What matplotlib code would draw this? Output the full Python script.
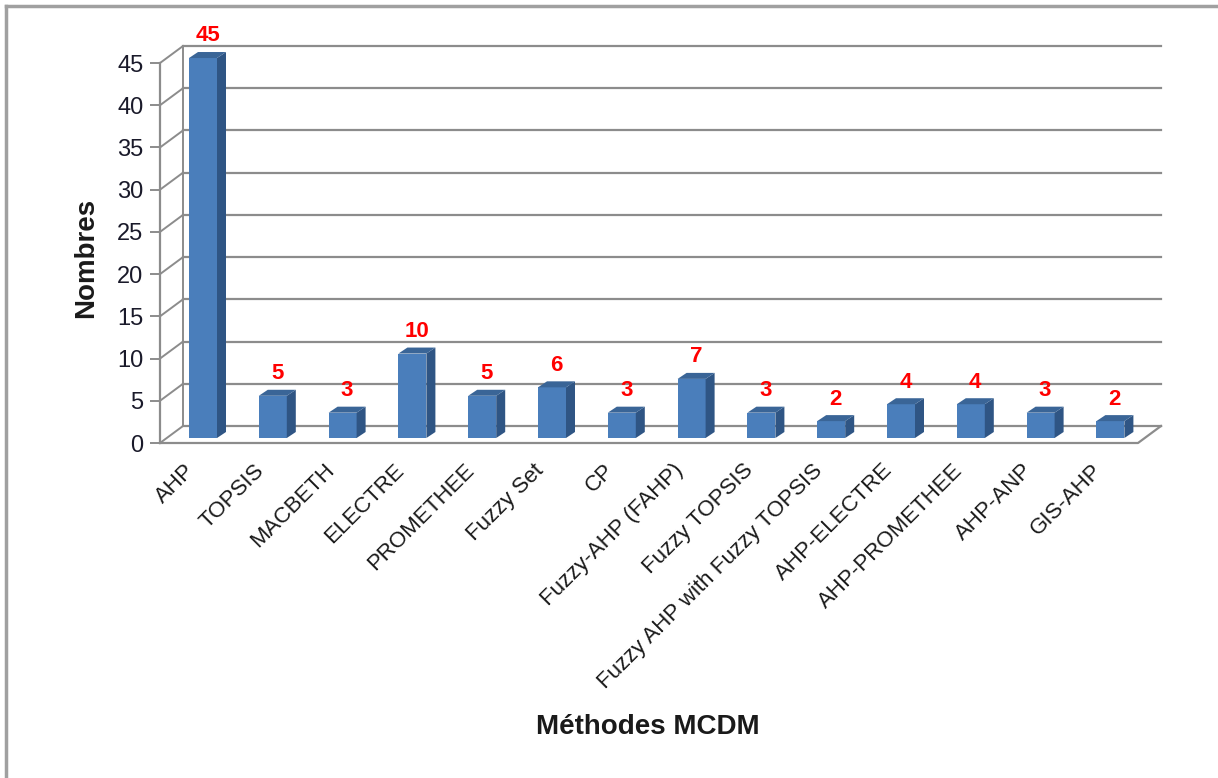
import matplotlib.pyplot as plt
from matplotlib.patches import Polygon
from matplotlib.lines import Line2D
import matplotlib.transforms as mtransforms

plt.rcParams['font.family'] = ['Liberation Sans', 'DejaVu Sans']

methods = ['AHP', 'TOPSIS', 'MACBETH', 'ELECTRE', 'PROMETHEE', 'Fuzzy Set', 'CP',
           'Fuzzy-AHP (FAHP)', 'Fuzzy TOPSIS', 'Fuzzy AHP with Fuzzy TOPSIS',
           'AHP-ELECTRE', 'AHP-PROMETHEE', 'AHP-ANP', 'GIS-AHP']
counts = [45, 5, 3, 10, 5, 6, 3, 7, 3, 2, 4, 4, 3, 2]
yticks = [0, 5, 10, 15, 20, 25, 30, 35, 40, 45]

W, H = 1218, 778
fig = plt.figure(figsize=(W / 100, H / 100), dpi=100)

# pixel geometry of the front plane (x: category index, y: value)
px_cat = 69.8          # pixels per category
px_val = 8.444         # pixels per unit
x0_px, xr_px = 160, 1170
y0_px = 443            # pixel row of value 0 on the front
ylo, yhi = -1, 48

xlo = (x0_px - 203) / px_cat
xhi = (xr_px - 203) / px_cat
bot_px = y0_px - ylo * px_val
top_px = y0_px - yhi * px_val
ax = fig.add_axes([x0_px / W, (H - bot_px) / H, (xr_px - x0_px) / W, (bot_px - top_px) / H])
ax.set_xlim(xlo, xhi)
ax.set_ylim(ylo, yhi)

# depth offsets (data units)
DX, DY = 23 / px_cat, 17 / px_val
ddx, ddy = 9 / px_cat, 6 / px_val
base = 5 / px_val
bw = 28 / px_cat
x_front_right = (1138 - 203) / px_cat

grid_c = '#8c8c8c'
for v in yticks:
    ax.add_line(Line2D([xlo + DX, x_front_right + DX], [v + DY, v + DY], color=grid_c, lw=1.6, clip_on=False, zorder=1))
    ax.add_line(Line2D([xlo, xlo + DX], [v, v + DY], color=grid_c, lw=1.4, clip_on=False, zorder=1))
ax.add_line(Line2D([xlo + DX, xlo + DX], [DY, yticks[-1] + DY], color=grid_c, lw=1.4, clip_on=False, zorder=1))
ax.add_line(Line2D([xlo, xlo], [0, yticks[-1]], color=grid_c, lw=1.6, clip_on=False, zorder=1))
ax.add_line(Line2D([xlo, x_front_right, x_front_right + DX], [0, 0, DY], color=grid_c, lw=1.6, clip_on=False, zorder=1))

xs = list(range(len(methods)))
ax.bar(xs, counts, width=bw, bottom=base, color='#4a7ebb', edgecolor='none', zorder=3)
for x, v in zip(xs, counts):
    r = x + bw / 2
    l = x - bw / 2
    t = v + base
    ax.add_patch(Polygon([(r, base), (r, t), (r + ddx, t + ddy), (r + ddx, base + ddy)],
                         closed=True, facecolor='#2f5584', edgecolor='none', zorder=3))
    ax.add_patch(Polygon([(l, t), (r, t), (r + ddx, t + ddy), (l + ddx, t + ddy)],
                         closed=True, facecolor='#3a6597', edgecolor='none', zorder=3))
    ax.annotate(str(v), (x + ddx / 2, t + ddy), xytext=(0, 4), textcoords='offset points',
                ha='center', va='bottom', color='#ff0000', fontsize=16, fontweight='bold')

for s in ax.spines.values():
    s.set_visible(False)
ax.set_yticks(yticks)
ax.tick_params(axis='y', length=7, width=1.4, color=grid_c, labelsize=17, labelcolor='#1a1a2a', pad=5)
ax.set_xticks(xs)
ax.set_xticklabels(methods, rotation=45, ha='right', fontsize=16, color='#1a1a1a')
ax.tick_params(axis='x', length=0, pad=6)
off = mtransforms.ScaledTranslation(-4 / 100, 0, fig.dpi_scale_trans)
for lab in ax.get_xticklabels():
    lab.set_transform(lab.get_transform() + off)

fig.text(86 / W, 1 - 258 / H, 'Nombres', rotation=90, ha='center', va='center',
         fontsize=20, fontweight='bold', color='#1a1a1a')
fig.text(648 / W, 1 - 727 / H, 'Méthodes MCDM', ha='center', va='center',
         fontsize=20, fontweight='bold', color='#1a1a1a')

# outer frame (left and top edges)
fig.add_artist(Line2D([6 / W, 6 / W], [0, 1 - 6 / H], color='#a0a0a0', lw=2.5, transform=fig.transFigure))
fig.add_artist(Line2D([6 / W, 1], [1 - 6 / H, 1 - 6 / H], color='#a0a0a0', lw=2.5, transform=fig.transFigure))

fig.savefig('out.png', dpi=100)
